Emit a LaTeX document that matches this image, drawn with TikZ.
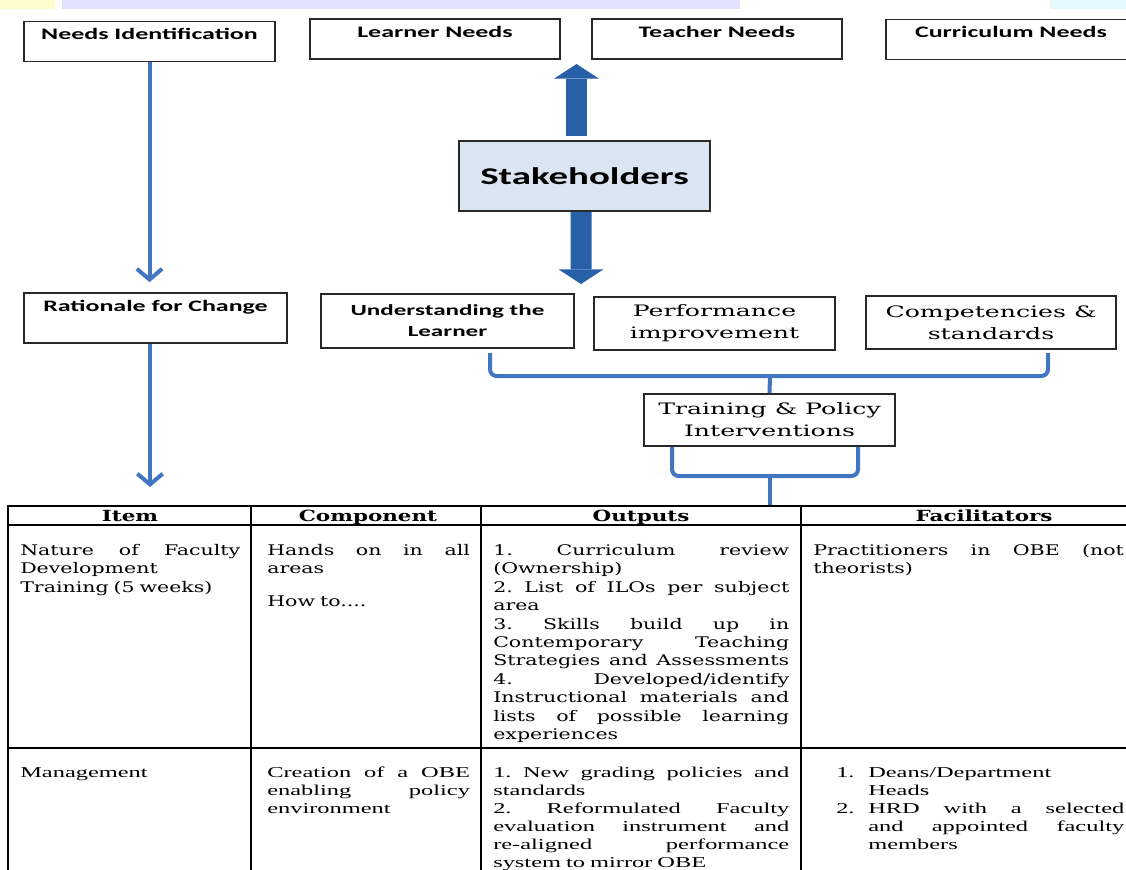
\documentclass[tikz,border=0pt]{standalone}
\usepackage{fontspec}
\usetikzlibrary{arrows.meta}
\setmainfont{DejaVu Serif}
\newfontfamily\calib[FakeStretch=1.62]{Carlito}
\newfontfamily\bookm[FakeStretch=1.4]{DejaVu Serif}
\newfontfamily\bookmw[FakeStretch=1.6]{DejaVu Serif}
\newfontfamily\timesf[FakeStretch=1.62]{Liberation Serif}
\definecolor{arrowblue}{RGB}{66,118,192}
\definecolor{blockblue}{RGB}{40,96,168}
\definecolor{stakefill}{RGB}{219,229,241}
\definecolor{boxline}{RGB}{40,40,40}
\newcommand{\jl}[1]{\makebox[\linewidth][s]{\spaceskip=.3333em plus 20em\relax\xspaceskip=.3333em plus 20em\relax #1}}
\newcommand{\jli}[1]{\makebox[\dimexpr\linewidth-24pt\relax][s]{\spaceskip=.3333em plus 20em\relax\xspaceskip=.3333em plus 20em\relax #1}}

\begin{document}
\begin{tikzpicture}[x=0.75pt,y=-0.75pt,
  topbox/.style={draw=boxline,line width=1.3pt,inner sep=0pt,minimum width=188pt,minimum height=30pt,font=\calib\bfseries\fontsize{12}{14}\selectfont,text height=8pt,text depth=11pt},
  midbox/.style={draw=boxline,line width=1.3pt,inner sep=0pt,minimum width=188pt,minimum height=40pt,align=center},
  stakebox/.style={draw=boxline,line width=1.3pt,fill=stakefill,minimum width=188pt,minimum height=52.5pt,font=\calib\bfseries\fontsize{18}{20}\selectfont},
  flowarrow/.style={draw=arrowblue,line width=3pt,-{Straight Barb[length=8pt,width=19pt]}},
  blockarrow/.style={draw=blockblue,line width=15.75pt,-{Triangle[length=11pt,width=33.75pt,line width'=0pt]}},
  bracket/.style={draw=arrowblue,line width=3pt,rounded corners=5pt},
  tabline/.style={draw=black,line width=1.6pt},
  headcell/.style={anchor=base,inner sep=0pt,font=\bookm\bfseries\fontsize{11.5}{13}\selectfont},
  cellone/.style={anchor=north west,inner sep=0pt,align=left,font=\bookm\fontsize{11}{13.8}\selectfont},
  celltwo/.style={anchor=north west,inner sep=0pt,align=left,font=\timesf\fontsize{11.3}{13.5}\selectfont}]
\useasboundingbox (0,0) rectangle (1126,869);
\clip (0,0) rectangle (1126,869);

% cut-off title band
\fill[yellow!20] (0,0) rectangle (55,9);
\fill[blue!12] (62,0) rectangle (740,9);
\fill[cyan!10] (1050,0) rectangle (1126,9);

% top row
\node[topbox] (needs) at (149.5,41.5) {Needs Identification};
\node[topbox] (learner) at (435,39) {Learner Needs};
\node[topbox] (teacher) at (717,39) {Teacher Needs};
\node[topbox] (curric) at (1011,39.5) {Curriculum Needs};

% stakeholders
\node[stakebox] (stake) at (584.5,176) {Stakeholders};
\coordinate (uptip) at (576.5,64);
\coordinate (downtip) at (581,284);
\draw[blockarrow] ([xshift=-6pt,yshift=3pt]stake.north) -- (uptip);
\draw[blockarrow] ([xshift=-2.6pt]stake.south) -- (downtip);

% second row
\node[topbox,minimum width=197pt,minimum height=37.5pt,text depth=18pt] (rationale) at (155.5,318) {Rationale for Change};
\node[midbox,minimum width=190pt,minimum height=40.5pt,font=\calib\bfseries\fontsize{11.6}{15.75}\selectfont] (understand) at (447.5,321) {Understanding the\\Learner};
\node[midbox,minimum width=181pt,font=\bookmw\fontsize{11.8}{16.5}\selectfont] (perform) at (714.5,323.5) {Performance\\improvement};
\node[midbox,font=\bookmw\fontsize{11.8}{16.5}\selectfont] (compet) at (991,322.5) {Competencies \&\\standards};
\node[midbox,minimum height=39pt,font=\bookmw\fontsize{11.8}{16.5}\selectfont] (train) at (769.5,420) {Training \& Policy\\Interventions};

% arrows
\coordinate (tabarrow) at (150,487);
\draw[flowarrow] (needs.south) -- ([yshift=7.5pt]needs.south |- rationale.north);
\draw[flowarrow] (rationale.south -| tabarrow) -- (tabarrow);

% brackets
\draw[bracket] (490,353) -- (490,376) -- (1048,376) -- (1048,353);
\draw[bracket] (770,376) -- (train.north);
\draw[bracket] (672,447) -- (672,476) -- (858,476) -- (858,447);
\draw[bracket] (770,476) -- (770,506);

% table
\draw[tabline] (1140,506) -- (8,506) -- (8,880);
\draw[tabline] (8,525) -- (1140,525);
\draw[tabline] (8,748) -- (1140,748);
\draw[tabline] (251,506) -- (251,880);
\draw[tabline] (481,506) -- (481,880);
\draw[tabline] (801,506) -- (801,880);

\node[headcell] (hitem) at (130,521) {Item};
\node[headcell] (hcomp) at (368,521) {Component};
\node[headcell] (hout) at (641,521) {Outputs};
\node[headcell] (hfac) at (984,521) {Facilitators};

% row 1
\node[cellone,text width=165pt] (item1) at (20,544) {\jl{Nature of Faculty}\\Development\\Training (5 weeks)};
\node[cellone,text width=152pt] (comp1) at (267,544) {\jl{Hands on in all}\\areas\\[11pt]How to....};
\node[cellone,text width=222pt] (out1) at (493,544) {\jl{1. Curriculum review}\\(Ownership)\\\jl{2. List of ILOs per subject}\\area\\\jl{3. Skills build up in}\\\jl{Contemporary Teaching}\\\jl{Strategies and Assessments}\\\jl{4. Developed/identify}\\\jl{Instructional materials and}\\\jl{lists of possible learning}\\experiences};
\node[cellone,text width=233pt] (fac1) at (813,544) {\jl{Practitioners in OBE (not}\\theorists)};

% row 2
\node[celltwo,text width=165pt] (item2) at (20,767) {Management};
\node[celltwo,text width=152pt] (comp2) at (267,767) {\jl{Creation of a OBE}\\\jl{enabling policy}\\environment};
\node[celltwo,text width=222pt] (out2) at (493,767) {\jl{1. New grading policies and}\\standards\\\jl{2. Reformulated Faculty}\\\jl{evaluation instrument and}\\\jl{re-aligned performance}\\system to mirror OBE};
\node[celltwo,text width=216pt] (fac2) at (836,767) {\makebox[24pt][l]{1.}Deans/Department\\\hspace*{24pt}Heads\\\makebox[24pt][l]{2.}\jli{HRD with a selected}\\\hspace*{24pt}\jli{and appointed faculty}\\\hspace*{24pt}members};
\end{tikzpicture}
\end{document}
